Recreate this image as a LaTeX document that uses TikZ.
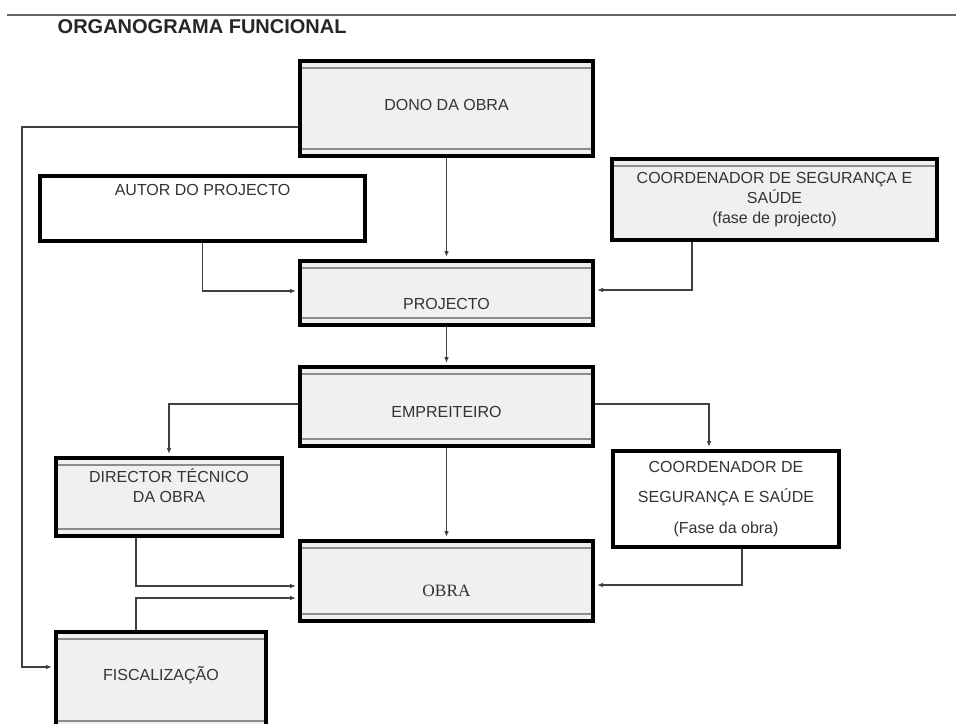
\documentclass[tikz,border=0pt]{standalone}
\usepackage{fontspec}
\setmainfont{Liberation Sans}
\newfontfamily\serifa{Liberation Serif}
\usetikzlibrary{arrows.meta}
\newcommand{\baixo}[1]{\rule{0pt}{#1}}
\newcommand{\cima}[1]{\rule[-#1]{0pt}{#1}}

\begin{document}
\begin{tikzpicture}[x=0.75pt, y=-0.75pt,
	caixa/.style={draw, line width=3pt, fill=black!6, text=black!80, align=center, inner sep=0pt,
		font=\fontsize{12}{15}\selectfont},
	branca/.style={fill=white},
	dim/.style 2 args={minimum width=#1*0.75pt, minimum height=#2*0.75pt},
	faixa topo/.style={path picture={\draw[black!45, line width=1.5pt]
		([yshift=-5pt]path picture bounding box.north west) -- ([yshift=-5pt]path picture bounding box.north east);}},
	faixa base/.style={path picture={\draw[black!45, line width=1.5pt]
		([yshift=-5pt]path picture bounding box.north west) -- ([yshift=-5pt]path picture bounding box.north east);
		\draw[black!45, line width=1.5pt]
		([yshift=5pt]path picture bounding box.south west) -- ([yshift=5pt]path picture bounding box.south east);}},
	liga/.style={draw=black!75, line width=1pt, shorten >=1.5pt, -{Latex[length=4.5pt,width=3.5pt]}}]
\useasboundingbox (0,0) rectangle (956,724);
%Title
	\draw[black!60, line width=1.5pt] (7,15) -- (956,15);
	\node[anchor=west, text=black!85, font=\fontsize{15}{18}\selectfont\bfseries] (titulo) at (53,27) {ORGANOGRAMA FUNCIONAL};
%Boxes
	\node[caixa, faixa base, dim={293}{95}] (dono) at (446.5,108.5) {\cima{5pt}DONO DA OBRA};
	\node[caixa, branca, dim={325}{65}] (autor) at (202.5,208.5) {\cima{28pt}AUTOR DO PROJECTO};
	\node[caixa, faixa topo, dim={325}{81}] (coordp) at (774.5,199.5) {COORDENADOR DE SEGURANÇA E\\SAÚDE\\(fase de projecto)};
	\node[caixa, faixa base, dim={293}{64}] (projecto) at (446.5,293) {\baixo{25pt}PROJECTO};
	\node[caixa, faixa base, dim={293}{79}] (empreiteiro) at (446.5,406.5) {\baixo{17pt}EMPREITEIRO};
	\node[caixa, faixa base, dim={226}{78}] (director) at (169,497) {DIRECTOR TÉCNICO\\DA OBRA\cima{17pt}};
	\node[caixa, branca, dim={226}{96}] (coordo) at (726,499) {COORDENADOR DE\\[8pt]SEGURANÇA E SAÚDE\\[8pt](Fase da obra)};
	\node[caixa, faixa base, dim={293}{80}, font=\fontsize{13}{15}\serifa] (obra) at (446.5,581) {\baixo{23.5pt}OBRA};
	\node[caixa, faixa base, dim={210}{96}] (fiscal) at (161,680) {\cima{10pt}FISCALIZAÇÃO};
%Links
	\draw[liga] (dono.west |- 0,127) -| (22,667) -- (fiscal.west |- 0,667);
	\draw[liga] (dono) -- (projecto);
	\draw[liga] (autor.south) |- (projecto.west |- 0,291);
	\draw[liga] (coordp.south -| 692,0) |- (projecto.east |- 0,290);
	\draw[liga] (projecto) -- (empreiteiro);
	\draw[liga] (empreiteiro.west |- 0,404) -| (director.north);
	\draw[liga] (empreiteiro.east |- 0,404) -| (coordo.north -| 709,0);
	\draw[liga] (empreiteiro) -- (obra);
	\draw[liga] (director.south -| 136,0) |- (obra.west |- 0,586);
	\draw[liga] (fiscal.north -| 136,0) |- (obra.west |- 0,598);
	\draw[liga] (coordo.south -| 742,0) |- (obra.east |- 0,585);
\end{tikzpicture}
\end{document}
